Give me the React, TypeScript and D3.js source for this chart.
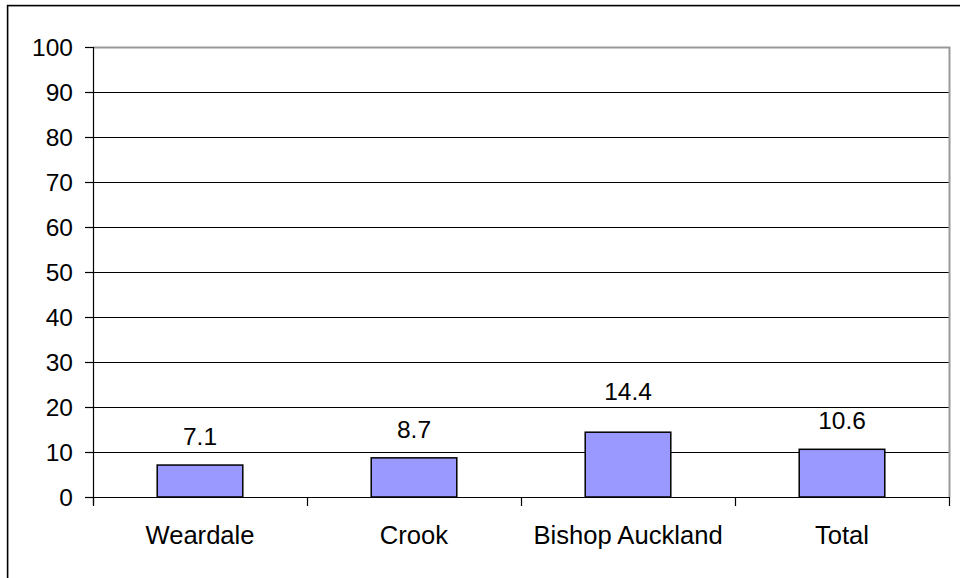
import React from "react";
import * as d3 from "d3";

const categories = ["Weardale", "Crook", "Bishop Auckland", "Total"];
const values = [7.1, 8.7, 14.4, 10.6];
const yTicks = [0, 10, 20, 30, 40, 50, 60, 70, 80, 90, 100];

// extra lift for individual value labels (Bishop Auckland label sits higher)
const labelLift = [0, 0, 12, 0];

const W = 960;
const H = 578;
const plot = { left: 93, right: 949, top: 47, bottom: 497 };
const FONT = "Liberation Sans, Arial, sans-serif";
const FS = 24.5;
const FS_CAT = 25.6;

export default function App() {
  const x = d3
    .scaleBand<string>()
    .domain(categories)
    .range([plot.left, plot.right])
    .paddingInner(0)
    .paddingOuter(0);
  const y = d3.scaleLinear().domain([0, 100]).range([plot.bottom, plot.top]);
  const bw = x.bandwidth() / 2.5;
  const boundaries = [...categories.map((c) => x(c)!), plot.right];

  return (
    <svg
      width={W}
      height={H}
      style={{ position: "absolute", left: 0, top: 0, background: "#fff" }}
      fontFamily={FONT}
    >
      <rect x={0} y={0} width={W} height={H} fill="#fff" />
      {/* chart area frame */}
      <rect
        x={7.6}
        y={5.6}
        width={W + 20}
        height={H + 20}
        fill="none"
        stroke="#000"
        strokeWidth={1.6}
      />
      {/* gridlines */}
      {yTicks
        .filter((t) => t > 0 && t < 100)
        .map((t) => (
          <line
            key={t}
            x1={plot.left}
            x2={plot.right}
            y1={y(t) + 0.5}
            y2={y(t) + 0.5}
            stroke="#000"
            strokeWidth={1}
          />
        ))}
      {/* plot area border (top & right) */}
      <path
        d={`M${plot.left},${plot.top + 0.5}H${plot.right + 0.5}V${plot.bottom}`}
        fill="none"
        stroke="#999"
        strokeWidth={2}
      />
      {/* bars */}
      {categories.map((c, i) => {
        const cx = x(c)! + x.bandwidth() / 2;
        return (
          <rect
            key={c}
            x={cx - bw / 2}
            y={y(values[i])}
            width={bw}
            height={y(0) - y(values[i])}
            fill="#9999FF"
            stroke="#000"
            strokeWidth={1.5}
          />
        );
      })}
      {/* axes */}
      <line x1={plot.left + 0.5} x2={plot.left + 0.5} y1={plot.top} y2={plot.bottom + 8} stroke="#000" strokeWidth={1.2} />
      <line x1={plot.left} x2={plot.right} y1={plot.bottom + 0.5} y2={plot.bottom + 0.5} stroke="#000" strokeWidth={1.2} />
      {yTicks.map((t) => (
        <g key={t}>
          <line x1={plot.left - 8} x2={plot.left} y1={y(t) + 0.5} y2={y(t) + 0.5} stroke="#000" strokeWidth={1.2} />
          <text x={73} y={y(t) + 8.5} textAnchor="end" fontSize={FS} fill="#000">
            {t}
          </text>
        </g>
      ))}
      {boundaries.map((b, i) => (
        <line
          key={i}
          x1={b + 0.5}
          x2={b + 0.5}
          y1={plot.bottom}
          y2={plot.bottom + 9}
          stroke="#000"
          strokeWidth={1.2}
        />
      ))}
      {categories.map((c) => (
        <text
          key={c}
          x={x(c)! + x.bandwidth() / 2}
          y={543.5}
          textAnchor="middle"
          fontSize={FS_CAT}
          fill="#000"
        >
          {c}
        </text>
      ))}
      {/* value labels */}
      {categories.map((c, i) => (
        <text
          key={c}
          x={x(c)! + x.bandwidth() / 2}
          y={y(values[i]) - 20 - labelLift[i]}
          textAnchor="middle"
          fontSize={FS}
          fill="#000"
        >
          {values[i]}
        </text>
      ))}
    </svg>
  );
}
